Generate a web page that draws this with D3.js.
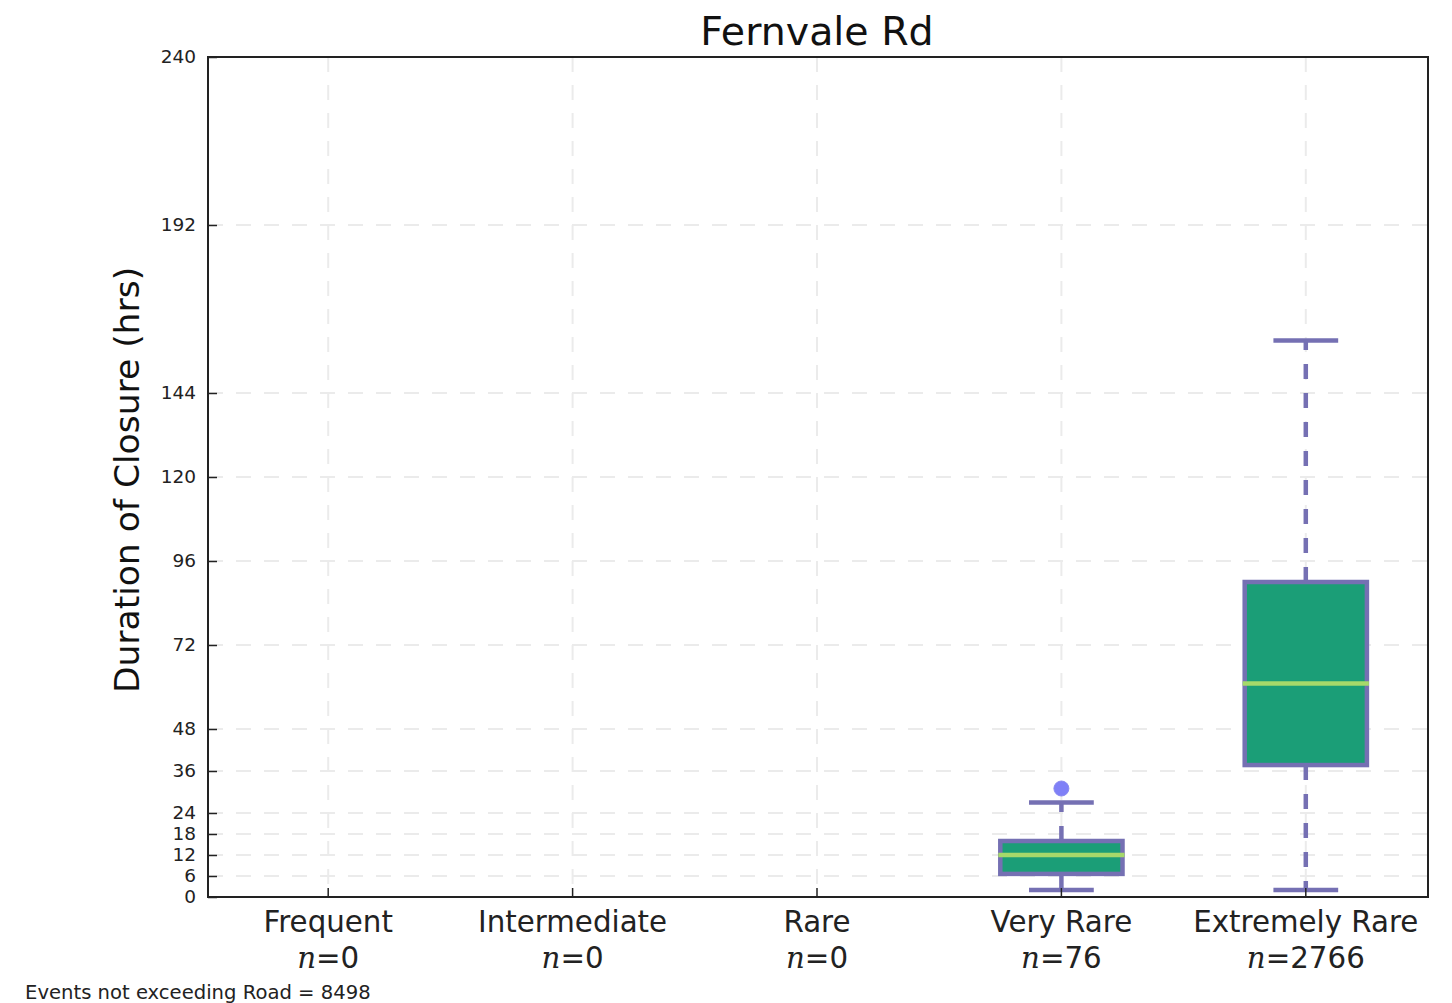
<!DOCTYPE html>
<html>
<head>
<meta charset="utf-8">
<script src="https://cdn.jsdelivr.net/npm/d3@7"></script>
<style>
  body { margin: 0; background: #fff; }
  svg { display: block; }
  text { font-family: "DejaVu Sans", sans-serif; }
</style>
</head>
<body>
<svg id="chart" width="1452" height="1003"></svg>
<script>
// ---- data ----
const title = "Fernvale Rd";
const yLabel = "Duration of Closure (hrs)";
const footnote = "Events not exceeding Road = 8498";
const categories = ["Frequent", "Intermediate", "Rare", "Very Rare", "Extremely Rare"];
const counts = [0, 0, 0, 76, 2766];
// box stats per category (null = no data)
const whiskerLow  = [null, null, null, 2, 2];
const q1          = [null, null, null, 6.6, 37.7];
const median      = [null, null, null, 12, 61];
const q3          = [null, null, null, 16, 90];
const whiskerHigh = [null, null, null, 27, 159];
const outliers    = [[], [], [], [31], []];
const yTicks = [0, 6, 12, 18, 24, 36, 48, 72, 96, 120, 144, 192, 240];
const yDomain = [0, 240];

// ---- layout ----
const svg = d3.select("#chart");
const m = { left: 208, right: 1428, top: 57, bottom: 897 };

const x = d3.scaleBand().domain(categories).range([m.left - 2, m.right]).paddingInner(0).paddingOuter(0);
const y = d3.scaleLinear().domain(yDomain).range([m.bottom, m.top]);
const cx = c => x(c) + x.bandwidth() / 2;
const boxW = x.bandwidth() * 0.5;
const capW = boxW * 0.53;

const boxStroke = "#7570b3";
const boxFill = "#1b9e77";
const medColor = "#a6d96a";
const gridColor = "#ebebeb";

// grid
const grid = svg.append("g");
grid.selectAll("line.h").data(yTicks.filter(t => t > 0 && t < 240)).join("line")
  .attr("x1", m.left).attr("x2", m.right)
  .attr("y1", d => y(d)).attr("y2", d => y(d))
  .attr("stroke", gridColor).attr("stroke-width", 2).attr("stroke-dasharray", "15,13");
grid.selectAll("line.v").data(categories).join("line")
  .attr("x1", d => cx(d)).attr("x2", d => cx(d))
  .attr("y1", m.top).attr("y2", m.bottom)
  .attr("stroke", gridColor).attr("stroke-width", 2).attr("stroke-dasharray", "15,13");

// boxes
const data = categories.map((c, i) => ({
  c, lo: whiskerLow[i], q1: q1[i], med: median[i], q3: q3[i], hi: whiskerHigh[i], out: outliers[i]
})).filter(d => d.med !== null);

const g = svg.append("g");
data.forEach(d => {
  const xc = cx(d.c);
  // whiskers
  g.append("line").attr("x1", xc).attr("x2", xc).attr("y1", y(d.q3)).attr("y2", y(d.hi))
    .attr("stroke", boxStroke).attr("stroke-width", 4.5).attr("stroke-dasharray", "15,14");
  g.append("line").attr("x1", xc).attr("x2", xc).attr("y1", y(d.q1)).attr("y2", y(d.lo))
    .attr("stroke", boxStroke).attr("stroke-width", 4.5).attr("stroke-dasharray", "15,14");
  // caps
  [d.lo, d.hi].forEach(v => {
    g.append("line").attr("x1", xc - capW / 2).attr("x2", xc + capW / 2)
      .attr("y1", y(v)).attr("y2", y(v))
      .attr("stroke", boxStroke).attr("stroke-width", 4.5);
  });
  // box
  g.append("rect").attr("x", xc - boxW / 2).attr("width", boxW)
    .attr("y", y(d.q3)).attr("height", y(d.q1) - y(d.q3))
    .attr("fill", boxFill).attr("stroke", boxStroke).attr("stroke-width", 4.5);
  // median
  g.append("line").attr("x1", xc - boxW / 2 - 2).attr("x2", xc + boxW / 2 + 2)
    .attr("y1", y(d.med)).attr("y2", y(d.med))
    .attr("stroke", medColor).attr("stroke-width", 4.5);
  // outliers
  d.out.forEach(o => {
    g.append("circle").attr("cx", xc).attr("cy", y(o)).attr("r", 7.5)
      .attr("fill", "#7f80f7").attr("stroke", "#8a8af0").attr("stroke-width", 1);
  });
});

// frame
svg.append("rect").attr("x", m.left).attr("y", m.top)
  .attr("width", m.right - m.left).attr("height", m.bottom - m.top)
  .attr("fill", "none").attr("stroke", "#222").attr("stroke-width", 2);

// y axis
const yAxis = d3.axisLeft(y).tickValues(yTicks).tickSize(-9).tickPadding(12).tickFormat(d3.format("d"));
const ya = svg.append("g").attr("transform", `translate(${m.left},0)`).call(yAxis);
ya.select(".domain").remove();
ya.selectAll(".tick line").attr("stroke", "#222").attr("stroke-width", 1.5);
ya.selectAll(".tick text").attr("font-size", 18.5).attr("fill", "#222")
  .attr("font-family", "DejaVu Sans").attr("x", -12);

// x axis
const xAxis = d3.axisBottom(x).tickSize(-9).tickFormat("");
const xa = svg.append("g").attr("transform", `translate(0,${m.bottom})`).call(xAxis);
xa.select(".domain").remove();
xa.selectAll(".tick line").attr("stroke", "#222").attr("stroke-width", 1.5);

// category labels
const lab = svg.append("g");
categories.forEach((c, i) => {
  lab.append("text").attr("x", cx(c)).attr("y", 932).attr("text-anchor", "middle")
    .attr("font-size", 29.3).attr("fill", "#222").text(c);
  const t = lab.append("text").attr("x", cx(c)).attr("y", 968).attr("text-anchor", "middle")
    .attr("font-size", 29.3).attr("fill", "#222");
  t.append("tspan").attr("font-family", "DejaVu Serif").attr("font-style", "italic").text("n");
  t.append("tspan").text("=" + counts[i]);
});

// title
svg.append("text").attr("x", 817).attr("y", 45).attr("text-anchor", "middle")
  .attr("font-size", 39.5).attr("fill", "#111").text(title);

// y label
svg.append("text").attr("transform", `translate(139,${(m.top + m.bottom) / 2 + 3}) rotate(-90)`)
  .attr("text-anchor", "middle").attr("font-size", 34.5).attr("fill", "#111").text(yLabel);

// footnote
svg.append("text").attr("x", 25).attr("y", 999).attr("font-size", 19.6).attr("fill", "#222").text(footnote);
</script>
</body>
</html>
